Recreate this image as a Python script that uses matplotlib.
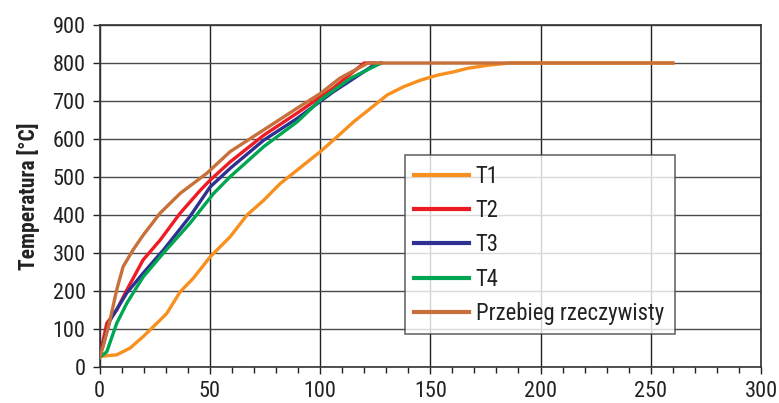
import numpy as np
import matplotlib
matplotlib.use("Agg")
import matplotlib.pyplot as plt
from matplotlib import font_manager
from matplotlib.ticker import MultipleLocator

# prefer a narrow sans face, fall back to a regular one
_names = {f.name for f in font_manager.fontManager.ttflist}
_wanted = ['Liberation Sans Narrow', 'Roboto Condensed', 'DejaVu Sans Condensed',
           'Open Sans Condensed', 'Noto Sans Condensed', 'Liberation Sans']
plt.rcParams['font.family'] = [n for n in _wanted if n in _names][:1] + ['DejaVu Sans']
plt.rcParams['font.stretch'] = 'condensed'

# heating curves, time vs temperature
t1_x = [0, 4, 7.8, 13.9, 19.8, 26, 30.5, 36.6, 42.6, 50.2, 59.3, 66.9, 74.5, 82, 89.6,
        100.2, 107.8, 115.4, 123, 130.5, 138.1, 145.7, 153.3, 160.8, 166.9, 176, 186, 260]
t1_y = [28, 30, 32, 50, 80, 115, 141, 198, 234, 290, 343, 400, 439, 483, 518,
        567, 606, 646, 681, 716, 738, 755, 768, 777, 786, 794, 800, 800]

t2_x = [0, 3.3, 7.8, 12.4, 19.8, 27.5, 36.6, 45.7, 50.2, 59.3, 74.5, 89.6, 106, 120, 125]
t2_y = [25, 115, 150, 203, 282, 334, 405, 465, 492, 540, 610, 668, 734, 800, 800]

t3_x = [0, 4.8, 12.4, 19.8, 29, 41, 50.2, 59.3, 74.5, 89.6, 106, 116, 124.5, 127]
t3_y = [25, 123, 195, 247, 308, 396, 474, 523, 597, 654, 724, 762, 795, 800]

t4_x = [0, 3.3, 7.8, 12.4, 19.8, 29, 41, 51.8, 59.3, 74.5, 89.6, 100.2, 113.9, 126, 128]
t4_y = [25, 40, 115, 168, 237, 300, 378, 457, 501, 580, 645, 703, 760, 795, 800]

real_x = [0, 1.6, 4.8, 7.8, 10.7, 15.2, 19.8, 27.5, 36.6, 48.7, 59.3, 74.5, 89.6,
          100.2, 109, 121.5, 123, 260]
real_y = [25, 53, 124, 203, 264, 308, 347, 405, 457, 510, 567, 624, 681,
          720, 760, 799, 800, 800]

fig = plt.figure(figsize=(7.79, 4.03), dpi=100)
ax = fig.add_axes([99.5 / 779, 36 / 403, 661.5 / 779, 342 / 403])

lw = 2.4
ax.plot(t1_x, t1_y, color='#F7901E', lw=lw, label='T1', zorder=3)
ax.plot(t2_x, t2_y, color='#ED1C24', lw=lw, label='T2', zorder=3)
ax.plot(t3_x, t3_y, color='#2E3192', lw=lw, label='T3', zorder=3)
ax.plot(t4_x, t4_y, color='#00A651', lw=lw, label='T4', zorder=3)
ax.plot(real_x, real_y, color='#C8703A', lw=lw, label='Przebieg rzeczywisty', zorder=4)

ax.set_xlim(0, 300)
ax.set_ylim(0, 900)
ax.xaxis.set_major_locator(MultipleLocator(50))
ax.xaxis.set_minor_locator(MultipleLocator(10))
ax.yaxis.set_major_locator(MultipleLocator(100))

ax.grid(axis='x', which='major', color='#222222', lw=1.0, zorder=1)
ax.grid(axis='y', which='major', color='#4a4a4a', lw=1.0, zorder=1)

ax.tick_params(axis='both', which='major', labelsize=16, length=5, width=1, colors='#222222')
ax.tick_params(axis='x', which='minor', length=4, width=1, color='#222222')
ax.tick_params(axis='x', pad=5)
ax.tick_params(axis='y', pad=5)

for s in ax.spines.values():
    s.set_color('#333333')
    s.set_linewidth(1.2)

ax.set_ylabel('Temperatura [°C]', fontsize=15.5, fontweight='bold', color='#222222', labelpad=9)

leg = ax.legend(loc='lower left', bbox_to_anchor=(0.462, 0.096, 0.408, 0.533),
                mode='expand', fontsize=16.4, frameon=True, fancybox=False,
                handlelength=2.4, handletextpad=0.3, labelspacing=0.5,
                borderaxespad=0, borderpad=0.4)
leg.get_frame().set_edgecolor('#444444')
leg.get_frame().set_linewidth(1.2)
for txt in leg.get_texts():
    txt.set_color('#222222')
for line in leg.get_lines():
    line.set_linewidth(3)

fig.savefig('out.png', dpi=100)
